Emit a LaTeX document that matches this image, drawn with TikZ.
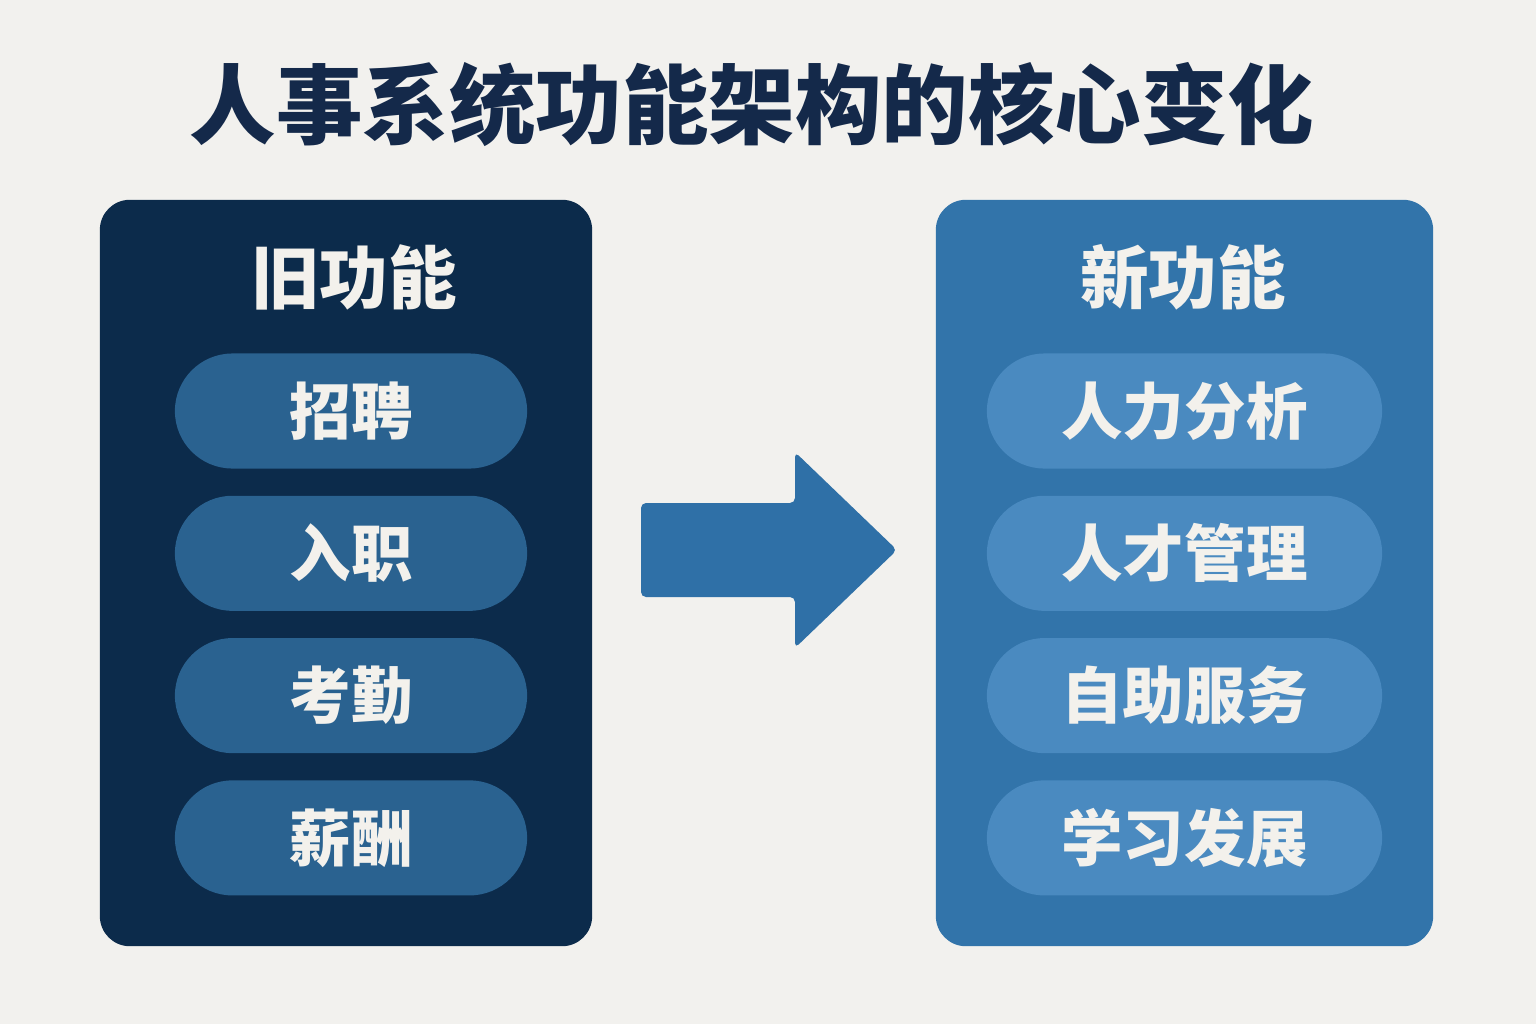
\documentclass[tikz,border=0pt]{standalone}
\usepackage{fontspec}
\setmainfont{Noto Sans CJK SC}
\usetikzlibrary{shapes}

\definecolor{bgcol}{HTML}{F2F1EE}
\definecolor{titlecol}{HTML}{14294A}
\definecolor{oldcol}{HTML}{0C2B4B}
\definecolor{oldpill}{HTML}{2A6290}
\definecolor{newcol}{HTML}{3274AA}
\definecolor{newpill}{HTML}{4A8AC0}
\definecolor{arrowcol}{HTML}{2F70A7}
\definecolor{textcol}{HTML}{F3F1EC}

\begin{document}
\begin{tikzpicture}[x=0.01cm,y=-0.01cm,
    panel/.style={rounded corners=0.3cm,minimum height=7.46cm,inner sep=0pt},
    pill/.style={rounded corners=0.575cm,minimum height=1.15cm,inner sep=0pt,text=textcol,font=\fontsize{17.5}{20}\selectfont\bfseries},
    head/.style={text=textcol,font=\fontsize{19.5}{24}\selectfont\bfseries}]
        \fill[bgcol] (0,0) rectangle (1536,1024);
        \useasboundingbox (0,0) rectangle (1536,1024);
        \node[text=titlecol,font=\fontsize{24.6}{30}\selectfont\bfseries] (title) at (752,105) {人事系统功能架构的核心变化};
        \node[panel,fill=oldcol,minimum width=4.92cm] (old) at (346,573) {};
        \node[panel,fill=newcol,minimum width=4.97cm] (new) at (1184.5,573) {};
        \node[head] (oldhead) at (354,277) {旧功能};
        \node[head] (newhead) at (1183,277) {新功能};
        \foreach \t [count=\i] in {招聘,入职,考勤,薪酬}
          \node[pill,fill=oldpill,minimum width=3.52cm] (old\i) at (351,{268.7+142.3*\i}) {\t};
        \foreach \t [count=\i] in {人力分析,人才管理,自助服务,学习发展}
          \node[pill,fill=newpill,minimum width=3.95cm] (new\i) at (1184.5,{268.7+142.3*\i}) {\t};
        % block arrow between the panels
        \fill[arrowcol,rounded corners=0.05cm] (641,550) -- (641,503) -- (795,503) -- (795,452) -- (897,550) -- (795,648) -- (795,597) -- (641,597) -- cycle;
      \end{tikzpicture}
\end{document}
